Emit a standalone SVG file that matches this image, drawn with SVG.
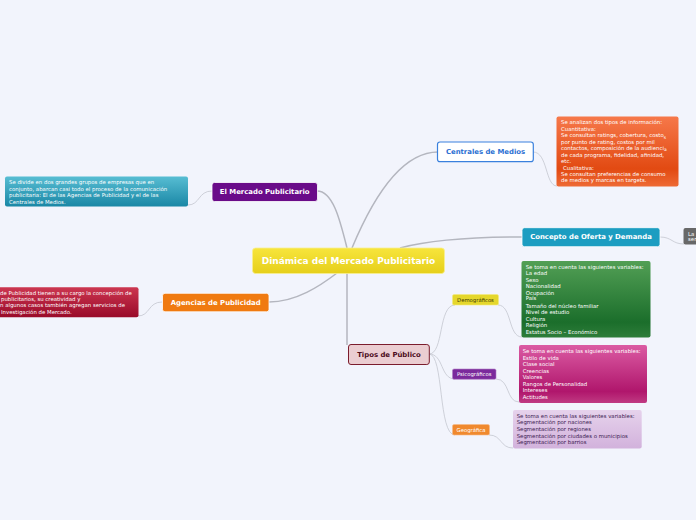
<svg xmlns="http://www.w3.org/2000/svg" width="696" height="520" viewBox="0 0 696 520">
<defs>
<linearGradient id="gYel" x1="0" y1="0" x2="0" y2="1"><stop offset="0" stop-color="#f7e53c"/><stop offset="1" stop-color="#e6cf1a"/></linearGradient>
<linearGradient id="gTeal" x1="0" y1="0" x2="0" y2="1"><stop offset="0" stop-color="#57bdd3"/><stop offset="1" stop-color="#1a87a5"/></linearGradient>
<linearGradient id="gRed" x1="0" y1="0" x2="0" y2="1"><stop offset="0" stop-color="#cc3650"/><stop offset="1" stop-color="#990a29"/></linearGradient>
<linearGradient id="gOr" x1="0" y1="0" x2="0" y2="1"><stop offset="0" stop-color="#f6784a"/><stop offset="0.75" stop-color="#e24a12"/><stop offset="1" stop-color="#ee6a35"/></linearGradient>
<linearGradient id="gGreen" x1="0" y1="0" x2="0" y2="1"><stop offset="0" stop-color="#529f55"/><stop offset="0.8" stop-color="#1b6e2b"/><stop offset="1" stop-color="#2e7d3a"/></linearGradient>
<linearGradient id="gPink" x1="0" y1="0" x2="0" y2="1"><stop offset="0" stop-color="#db5ba3"/><stop offset="0.8" stop-color="#b0166c"/><stop offset="1" stop-color="#c03a82"/></linearGradient>
<linearGradient id="gLav" x1="0" y1="0" x2="0" y2="1"><stop offset="0" stop-color="#e6d2ec"/><stop offset="1" stop-color="#d2b2dc"/></linearGradient>
</defs>
<style>
.main{font-family:"DejaVu Sans","Liberation Sans",sans-serif;font-weight:bold;font-size:6.9px;text-anchor:middle;dominant-baseline:central}
.sub{font-family:"DejaVu Sans","Liberation Sans",sans-serif;font-size:5.3px;text-anchor:middle;dominant-baseline:central}
.desc{font-family:"DejaVu Sans","Liberation Sans",sans-serif;font-size:5.4px;fill:#ffffff}
.con{fill:none;stroke:#b4b6bf;stroke-width:1.5}
.con2{fill:none;stroke:#c4c6cf;stroke-width:0.8}
.node{stroke:#ffffff;stroke-width:0.8}
</style>
<rect width="696" height="520" fill="#f2f4fc"/>
<g id="connectors">
<path class="con" d="M317,191 C333,191 340,220 347,248"/>
<path class="con" d="M352,248 C372,200 400,152 438,152"/>
<path class="con" d="M400,248 C430,240 480,237 522,237"/>
<path class="con" d="M269,302 C296,302 320,286 337,273"/>
<path class="con" d="M347,273 L347,345"/>
<path class="con2" d="M212,191 C198,191 200,205 188,205"/>
<path class="con2" d="M162,302 C148,302 150,316 138,316"/>
<path class="con2" d="M533,152 C548,152 545,186 557,186"/>
<path class="con2" d="M660,237 C672,237 672,244 684,244"/>
<path class="con2" d="M429,354 C444,354 438,305 455,305"/>
<path class="con2" d="M429,354 C444,354 440,379 455,379"/>
<path class="con2" d="M429,354 C444,354 438,435 455,435"/>
<path class="con2" d="M498,305 C512,305 508,337 522,337"/>
<path class="con2" d="M496,379 C510,379 506,402 519,402"/>
<path class="con2" d="M489,435 C502,435 500,448 513,448"/>
</g>
<g id="central">
<rect x="252.5" y="248" width="192" height="25.5" rx="3" fill="url(#gYel)" stroke="#f8ef90" stroke-width="0.8"/>
<text class="main" x="348.5" y="261" fill="#ffffff" style="font-size:9px">Dinámica del Mercado Publicitario</text>
</g>
<g id="mercado">
<rect class="node" x="212" y="182.5" width="105.5" height="19" rx="2.5" fill="#6a0b89"/>
<text class="main" x="264.7" y="192" fill="#ffffff">El Mercado Publicitario</text>
</g>
<g id="mercado-desc">
<rect x="5" y="176.5" width="183" height="30" rx="2" fill="url(#gTeal)"/>
<text class="desc" x="9" y="184">Se divide en dos grandes grupos de empresas que en</text>
<text class="desc" x="9" y="190.5">conjunto, abarcan casi todo el proceso de la comunicación</text>
<text class="desc" x="9" y="197.3">publicitaria: El de las Agencias de Publicidad y el de las</text>
<text class="desc" x="9" y="203.8">Centrales de Medios.</text>
</g>
<g id="agencias">
<rect class="node" x="162.5" y="293.3" width="106.5" height="18.5" rx="2.5" fill="#f07a10"/>
<text class="main" x="215.7" y="302.5" fill="#ffffff">Agencias de Publicidad</text>
</g>
<g id="agencias-desc">
<rect x="-5" y="287.3" width="143.5" height="30" rx="2" fill="url(#gRed)"/>
<text class="desc" x="0" y="294.6">de Publicidad tienen a su cargo la concepción de</text>
<text class="desc" x="1" y="300.6">publicitarios, su creatividad y</text>
<text class="desc" x="0" y="307.2">n algunos casos también agregan servicios de</text>
<text class="desc" x="1" y="314.3">Investigación de Mercado.</text>
</g>
<g id="centrales">
<rect x="437.5" y="142" width="95.8" height="19.7" rx="2.5" fill="#ffffff" stroke="#3a80dd" stroke-width="1.2"/>
<text class="main" x="485.5" y="152" fill="#2a6fd2">Centrales de Medios</text>
</g>
<g id="centrales-desc">
<rect x="556.5" y="116.5" width="122" height="70" rx="2" fill="url(#gOr)"/>
<text class="desc" x="561" y="124.3">Se analizan dos tipos de información:</text>
<text class="desc" x="561" y="131">Cuantitativa:</text>
<text class="desc" x="561" y="137">Se consultan ratings, cobertura, costo<tspan font-size="4.5" dy="1.5">s</tspan></text>
<text class="desc" x="561" y="143.7">por punto de rating, costos por mil</text>
<text class="desc" x="561" y="149.7">contactos, composición de la audienci<tspan font-size="4.5" dy="1.5">a</tspan></text>
<text class="desc" x="561" y="157">de cada programa, fidelidad, afinidad,</text>
<text class="desc" x="561" y="163">etc.</text>
<text class="desc" x="563" y="169.7">Cualitativa:</text>
<text class="desc" x="561" y="175.7">Se consultan preferencias de consumo</text>
<text class="desc" x="561" y="182.3">de medios y marcas en targets.</text>
</g>
<g id="concepto">
<rect class="node" x="522" y="227.7" width="138" height="19" rx="2.5" fill="#1c9dc1"/>
<text class="main" x="591" y="237.2" fill="#ffffff">Concepto de Oferta y Demanda</text>
</g>
<g id="concepto-desc">
<rect x="683.5" y="228" width="20" height="16.5" rx="2" fill="#686868"/>
<text class="desc" x="688" y="235.5">La</text>
<text class="desc" x="688" y="241.3">ser</text>
</g>
<g id="tipos">
<rect x="348.5" y="344.5" width="80.8" height="20" rx="2.5" fill="#ebcdd1" stroke="#7b1c2c" stroke-width="1"/>
<text class="main" x="389" y="354.5" fill="#4a0a1a">Tipos de Público</text>
</g>
<g id="demograficos">
<rect x="452.5" y="294.5" width="46" height="10.5" rx="1.5" fill="#e5d72c" stroke="#f3ea80" stroke-width="0.6"/>
<text class="sub" x="475.5" y="299.9" fill="#3a3500">Demográficos</text>
</g>
<g id="demograficos-desc">
<rect x="521.5" y="261" width="129" height="76.5" rx="2" fill="url(#gGreen)"/>
<text class="desc" x="525.7" y="268.7">Se toma en cuenta las siguientes variables:</text>
<text class="desc" x="525.7" y="274.8">La edad</text>
<text class="desc" x="525.7" y="281.5">Sexo</text>
<text class="desc" x="525.7" y="287.8">Nacionalidad</text>
<text class="desc" x="525.7" y="294.5">Ocupación</text>
<text class="desc" x="525.7" y="300.2">País</text>
<text class="desc" x="525.7" y="307.5">Tamaño del núcleo familiar</text>
<text class="desc" x="525.7" y="313.8">Nivel de estudio</text>
<text class="desc" x="525.7" y="320.8">Cultura</text>
<text class="desc" x="525.7" y="327.2">Religión</text>
<text class="desc" x="525.7" y="334.2">Estatus Socio – Económico</text>
</g>
<g id="psicograficos">
<rect x="452.5" y="369" width="43.5" height="10.3" rx="1.5" fill="#7b2a9c" stroke="#b07cc4" stroke-width="0.6"/>
<text class="sub" x="474.2" y="374.3" fill="#ffffff">Psicográficos</text>
</g>
<g id="psicograficos-desc">
<rect x="519" y="345" width="128" height="58" rx="2" fill="url(#gPink)"/>
<text class="desc" x="522.7" y="353">Se toma en cuenta las siguientes variables:</text>
<text class="desc" x="522.7" y="359.5">Estilo de vida</text>
<text class="desc" x="522.7" y="366">Clase social</text>
<text class="desc" x="522.7" y="373">Creencias</text>
<text class="desc" x="522.7" y="378.8">Valores</text>
<text class="desc" x="522.7" y="385.5">Rangos de Personalidad</text>
<text class="desc" x="522.7" y="392">Intereses</text>
<text class="desc" x="522.7" y="398.7">Actitudes</text>
</g>
<g id="geografica">
<rect x="452.5" y="424.5" width="37" height="10.5" rx="1.5" fill="#f0892e" stroke="#f6bb88" stroke-width="0.6"/>
<text class="sub" x="471" y="429.9" fill="#ffffff">Geográfica</text>
</g>
<g id="geografica-desc">
<rect x="513" y="410" width="128.7" height="38.5" rx="2" fill="url(#gLav)"/>
<text class="desc" x="516.7" y="418" fill="#3a1a50" style="fill:#3a1a50">Se toma en cuenta las siguientes variables:</text>
<text class="desc" x="516.7" y="424.3" style="fill:#3a1a50">Segmentación por naciones</text>
<text class="desc" x="516.7" y="431" style="fill:#3a1a50">Segmentación por regiones</text>
<text class="desc" x="516.7" y="437.7" style="fill:#3a1a50">Segmentación por ciudades o municipios</text>
<text class="desc" x="516.7" y="443.7" style="fill:#3a1a50">Segmentación por barrios</text>
</g>
</svg>
